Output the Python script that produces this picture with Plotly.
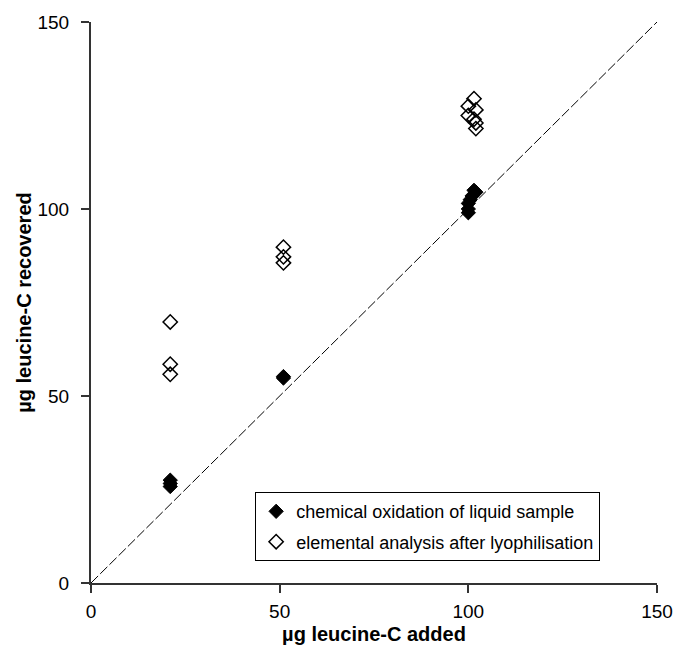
import plotly.graph_objects as go

# chemical oxidation of liquid sample (filled diamonds)
chem_x = [21, 21, 21, 51, 51, 101.5, 102, 101, 100.5, 100, 100, 100]
chem_y = [27.5, 26.6, 25.8, 55.2, 54.8, 105, 104.5, 103.5, 102.5, 101.5, 100, 99]

# elemental analysis after lyophilisation (open diamonds)
elem_x = [21, 21, 21, 51, 51, 51, 101.5, 100, 102, 100, 101.5, 102, 102]
elem_y = [69.8, 58.5, 55.8, 89.8, 87.2, 85.6, 129.5, 127.5, 126.5, 125, 124, 123, 121.5]

# 1:1 reference line
line_x = [0, 150]
line_y = [0, 150]

tick_vals = [0, 50, 100, 150]
tick_text = ["0", "50", "100", "150"]

fig = go.Figure()
fig.add_trace(go.Scatter(x=line_x, y=line_y, mode="lines",
                         line=dict(color="black", width=1, dash="10px,3px"),
                         showlegend=False, hoverinfo="skip"))
fig.add_trace(go.Scatter(x=chem_x, y=chem_y, mode="markers",
                         name="chemical oxidation of liquid sample",
                         legendgroup="a",
                         marker=dict(symbol="diamond", size=11, color="black",
                                     line=dict(color="black", width=1))))
fig.add_trace(go.Scatter(x=elem_x, y=elem_y, mode="markers",
                         name="elemental analysis after lyophilisation",
                         legendgroup="b",
                         marker=dict(symbol="diamond-open", size=11, color="black",
                                     line=dict(color="black", width=1.5))))

axis_common = dict(range=[0, 150], tickvals=tick_vals, ticktext=tick_text,
                   showgrid=False, zeroline=False, showline=True,
                   linecolor="#333", linewidth=2, ticks="outside",
                   ticklen=8, tickwidth=1.5, tickcolor="#333", automargin=False,
                   tickfont=dict(family="Liberation Sans, Arial", size=19, color="black"))

fig.update_layout(
    width=674, height=649,
    paper_bgcolor="white", plot_bgcolor="white",
    margin=dict(l=91, r=17, t=22, b=66),
    font=dict(family="Liberation Sans, Arial", color="black"),
    xaxis=dict(**axis_common, ticklabelstandoff=2,
               title=dict(text="<b>µg leucine-C added</b>",
                          font=dict(size=20), standoff=6)),
    yaxis=dict(**axis_common, ticklabelstandoff=8,
               title=dict(text="<b>µg leucine-C recovered</b>",
                          font=dict(size=20), standoff=0)),
    legend=dict(x=0.29, y=0.039, xanchor="left", yanchor="bottom",
                bordercolor="black", borderwidth=1, bgcolor="white",
                itemwidth=30, traceorder="grouped", tracegroupgap=4,
                font=dict(size=18, color="black")),
)

# remove the browser's default 8px page margin so the figure fills the window
fig.write_html("out.html",
               config={"displayModeBar": False},
               post_script="document.body.style.margin='0';"
                           "document.body.style.overflow='hidden';")
